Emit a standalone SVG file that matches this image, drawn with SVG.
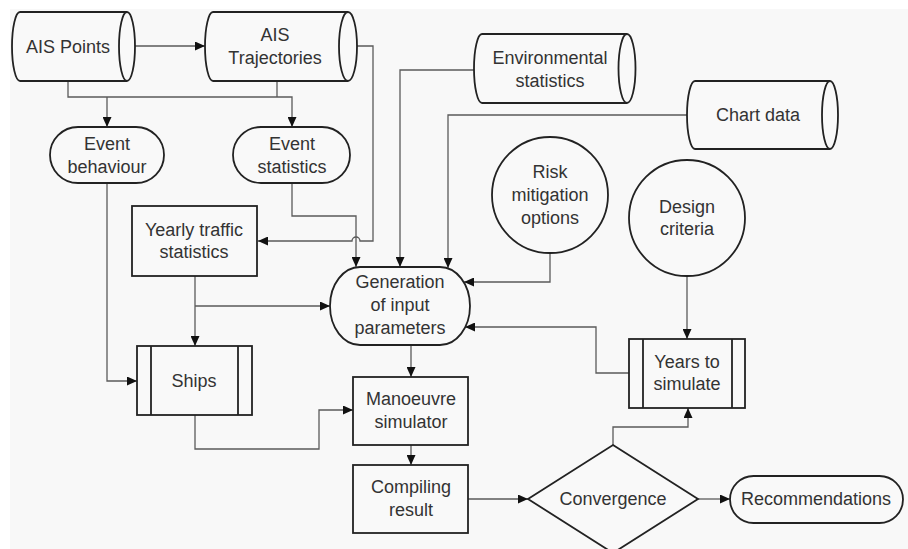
<svg xmlns="http://www.w3.org/2000/svg" width="908" height="549" viewBox="0 0 908 549">
  <style>
    .shape { fill: #f9f9f9; stroke: #222; stroke-width: 1.8; }
    .bar { fill: none; stroke: #222; stroke-width: 1.8; }
    .conn { fill: none; stroke: #5a5a5a; stroke-width: 1.3; }
    .arrow { marker-end: url(#head); }
    text { font-family: "Liberation Sans", Arial, sans-serif; font-size: 18px; fill: #333; text-anchor: middle; }
  </style>
  <defs>
    <marker id="head" markerUnits="userSpaceOnUse" markerWidth="10" markerHeight="9" refX="10" refY="4.5" orient="auto">
      <path d="M0,0 L10,4.5 L0,9 Z" fill="#111"/>
    </marker>
  </defs>

  <!-- page background -->
  <rect x="10" y="9" width="898" height="540" fill="#f8f8f8"/>

  <!-- connectors -->
  <g id="connectors">
    <path class="conn arrow" d="M135,46 H205"/>
    <path class="conn arrow" d="M68,81 V97 H292 V127"/>
    <path class="conn arrow" d="M107,97 V127"/>
    <path class="conn" d="M277,81 V97"/>
    <path class="conn arrow" d="M357,46 H373 V241 H360 A4,4 0 0 0 352,241 H258"/>
    <path class="conn arrow" d="M292,183 V216 H356 V267"/>
    <path class="conn arrow" d="M474,70 H400 V267"/>
    <path class="conn arrow" d="M687,115 H448 V268"/>
    <path class="conn arrow" d="M550,253 V282 H464"/>
    <path class="conn arrow" d="M629,373 H596 V327 H465"/>
    <path class="conn arrow" d="M687,276 V339"/>
    <path class="conn arrow" d="M195,276 V346"/>
    <path class="conn arrow" d="M195,306 H330"/>
    <path class="conn arrow" d="M107,183 V381 H137"/>
    <path class="conn arrow" d="M195,415 V449 H319 V410 H353"/>
    <path class="conn arrow" d="M411,345 V377"/>
    <path class="conn arrow" d="M411,445 V465"/>
    <path class="conn arrow" d="M468,499 H528"/>
    <path class="conn arrow" d="M613,445 V427 H688 V408"/>
    <path class="conn arrow" d="M698,499 H730"/>
  </g>

  <!-- data stores -->
  <g id="ais-points">
    <path class="shape" d="M127,12 H20 A8,34.5 0 0 0 20,81 H127"/>
    <ellipse class="shape" cx="127" cy="46.5" rx="8" ry="34.5"/>
    <text x="68" y="53">AIS Points</text>
  </g>
  <g id="ais-trajectories">
    <path class="shape" d="M348,12 H213 A8,34.5 0 0 0 213,81 H348"/>
    <ellipse class="shape" cx="348" cy="46.5" rx="9" ry="34.5"/>
    <text x="275" y="41">AIS</text>
    <text x="275" y="64">Trajectories</text>
  </g>
  <g id="environmental-statistics">
    <path class="shape" d="M627,34 H482 A8,34.5 0 0 0 482,103 H627"/>
    <ellipse class="shape" cx="627" cy="68.5" rx="8.5" ry="34.5"/>
    <text x="550" y="64">Environmental</text>
    <text x="550" y="87">statistics</text>
  </g>
  <g id="chart-data">
    <path class="shape" d="M830,81 H695 A8,34 0 0 0 695,149 H830"/>
    <ellipse class="shape" cx="830" cy="115" rx="8" ry="34"/>
    <text x="758" y="121">Chart data</text>
  </g>

  <!-- events -->
  <g id="event-behaviour">
    <rect class="shape" x="50" y="127" width="114" height="56" rx="28" ry="28"/>
    <text x="107" y="150">Event</text>
    <text x="107" y="173">behaviour</text>
  </g>
  <g id="event-statistics">
    <rect class="shape" x="233" y="127" width="117" height="56" rx="28" ry="28"/>
    <text x="292" y="150">Event</text>
    <text x="292" y="173">statistics</text>
  </g>

  <!-- processes -->
  <g id="yearly-traffic-statistics">
    <rect class="shape" x="132" y="206" width="125" height="70"/>
    <text x="194" y="236">Yearly traffic</text>
    <text x="194" y="258">statistics</text>
  </g>
  <g id="ships">
    <rect class="shape" x="137" y="346" width="115" height="69"/>
    <line class="bar" x1="151" y1="346" x2="151" y2="415"/>
    <line class="bar" x1="238" y1="346" x2="238" y2="415"/>
    <text x="194" y="387">Ships</text>
  </g>
  <g id="generation-of-input-parameters">
    <rect class="shape" x="330" y="267" width="140" height="78" rx="30" ry="39"/>
    <text x="400" y="288">Generation</text>
    <text x="400" y="311">of input</text>
    <text x="400" y="334">parameters</text>
  </g>
  <g id="risk-mitigation-options">
    <circle class="shape" cx="550" cy="195" r="58"/>
    <text x="550" y="178">Risk</text>
    <text x="550" y="201">mitigation</text>
    <text x="550" y="224">options</text>
  </g>
  <g id="design-criteria">
    <circle class="shape" cx="687" cy="218" r="58"/>
    <text x="687" y="213">Design</text>
    <text x="687" y="235">criteria</text>
  </g>
  <g id="years-to-simulate">
    <rect class="shape" x="629" y="339" width="116" height="69"/>
    <line class="bar" x1="643" y1="339" x2="643" y2="408"/>
    <line class="bar" x1="732" y1="339" x2="732" y2="408"/>
    <text x="687" y="368">Years to</text>
    <text x="687" y="390">simulate</text>
  </g>
  <g id="manoeuvre-simulator">
    <rect class="shape" x="353" y="377" width="115" height="68"/>
    <text x="411" y="405">Manoeuvre</text>
    <text x="411" y="428">simulator</text>
  </g>
  <g id="compiling-result">
    <rect class="shape" x="353" y="465" width="115" height="68"/>
    <text x="411" y="493">Compiling</text>
    <text x="411" y="516">result</text>
  </g>
  <g id="convergence">
    <path class="shape" d="M613,445 L698,499 L613,553 L528,499 Z"/>
    <text x="613" y="505">Convergence</text>
  </g>
  <g id="recommendations">
    <rect class="shape" x="730" y="476" width="173" height="47" rx="23.5" ry="23.5"/>
    <text x="816" y="505">Recommendations</text>
  </g>
</svg>
